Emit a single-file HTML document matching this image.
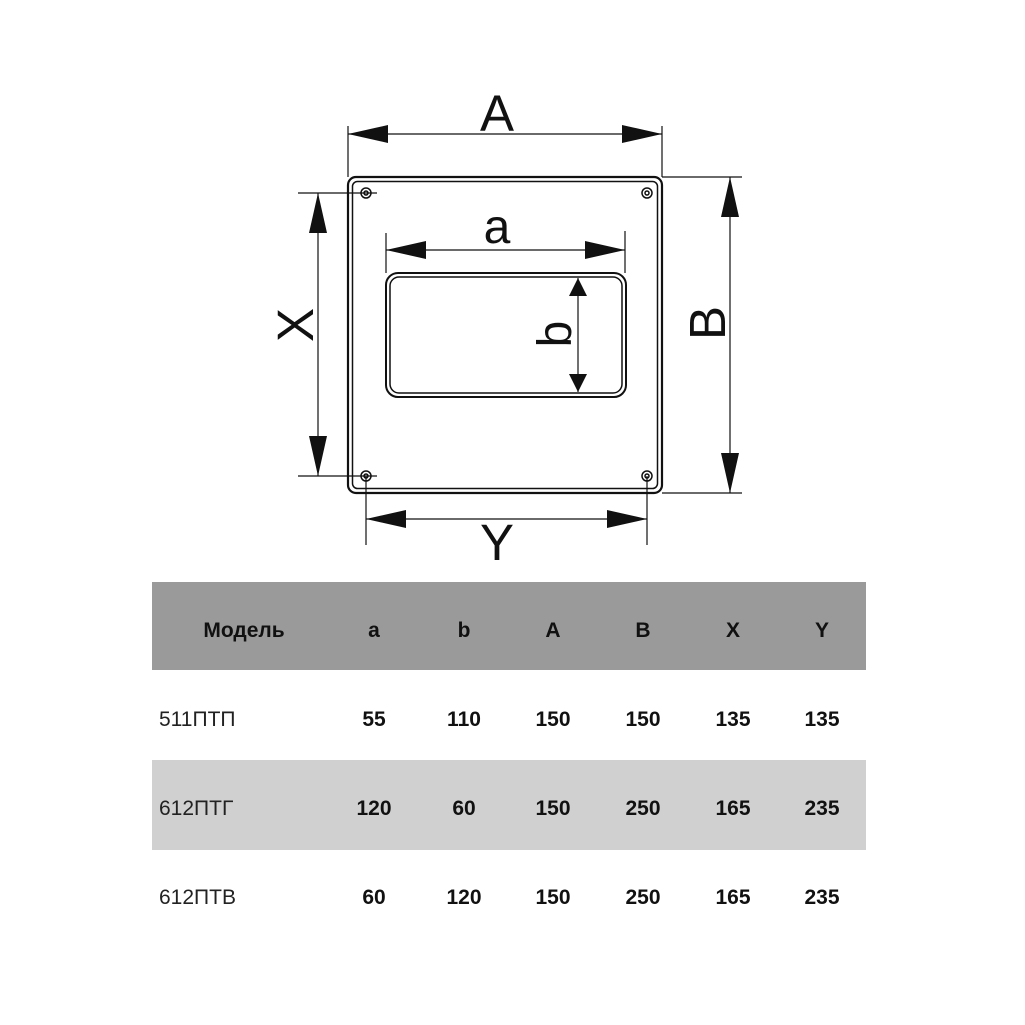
<!DOCTYPE html>
<html><head><meta charset="utf-8"><style>
body{margin:0;background:#fff;width:1025px;height:1025px;overflow:hidden;font-family:"Liberation Sans",sans-serif}
</style></head><body>
<svg width="1025" height="1025" viewBox="0 0 1025 1025" xmlns="http://www.w3.org/2000/svg" style="position:absolute;left:0;top:0">
<g fill="none" stroke="#111">
<!-- outer plate double -->
<rect x="348" y="177" width="314" height="316" rx="8" stroke-width="2.2"/>
<rect x="352.5" y="181.5" width="305" height="307" rx="5" stroke-width="1.5"/>
<!-- inner opening -->
<rect x="386" y="273" width="240" height="124" rx="12" stroke-width="2"/>
<rect x="390" y="277" width="232" height="116" rx="9" stroke-width="1.5"/>
<!-- screws -->
<g stroke-width="1.5">
<circle cx="366" cy="193" r="5"/><circle cx="366" cy="193" r="2"/>
<circle cx="647" cy="193" r="5"/><circle cx="647" cy="193" r="2"/>
<circle cx="366" cy="476" r="5"/><circle cx="366" cy="476" r="2"/>
<circle cx="647" cy="476" r="5"/><circle cx="647" cy="476" r="2"/>
</g>
<g stroke-width="1.2">
<!-- A -->
<line x1="348" y1="126" x2="348" y2="177"/><line x1="662" y1="126" x2="662" y2="177"/>
<line x1="348" y1="134" x2="662" y2="134"/>
<!-- B -->
<line x1="662" y1="177" x2="742" y2="177"/><line x1="662" y1="493" x2="742" y2="493"/>
<line x1="730" y1="177" x2="730" y2="493"/>
<!-- X -->
<line x1="298" y1="193" x2="377" y2="193"/><line x1="298" y1="476" x2="377" y2="476"/>
<line x1="318" y1="193" x2="318" y2="476"/>
<!-- Y -->
<line x1="366" y1="476" x2="366" y2="545"/><line x1="647" y1="476" x2="647" y2="545"/>
<line x1="366" y1="519" x2="647" y2="519"/>
<!-- a -->
<line x1="386" y1="233" x2="386" y2="273"/><line x1="625" y1="231" x2="625" y2="273"/>
<line x1="386" y1="250" x2="625" y2="250"/>
<!-- b -->
<line x1="578" y1="278" x2="578" y2="392"/>
</g>
</g>
<g fill="#111">
<!-- A arrows -->
<polygon points="348,134 388,125 388,143"/><polygon points="662,134 622,125 622,143"/>
<!-- B -->
<polygon points="730,177 721,217 739,217"/><polygon points="730,493 721,453 739,453"/>
<!-- X -->
<polygon points="318,193 309,233 327,233"/><polygon points="318,476 309,436 327,436"/>
<!-- Y -->
<polygon points="366,519 406,510 406,528"/><polygon points="647,519 607,510 607,528"/>
<!-- a -->
<polygon points="386,250 426,241 426,259"/><polygon points="625,250 585,241 585,259"/>
<!-- b -->
<polygon points="578,278 569,296 587,296"/><polygon points="578,392 569,374 587,374"/>
</g>
<g fill="#111" font-family="Liberation Sans, sans-serif" text-anchor="middle">
<text x="497" y="131" font-size="51">A</text>
<text x="497" y="243" font-size="48">a</text>
<text x="497" y="560" font-size="51">Y</text>
<text transform="translate(313,325) rotate(-90)" font-size="51">X</text>
<text transform="translate(725,323) rotate(-90)" font-size="51">B</text>
<text transform="translate(571,334) rotate(-90)" font-size="48">b</text>
</g>
<!-- table -->
<rect x="152" y="582" width="714" height="88" fill="#9a9a9a"/>
<rect x="152" y="760" width="714" height="90" fill="#d0d0d0"/>
<g font-family="Liberation Sans, sans-serif" font-size="21" font-weight="bold" fill="#111" text-anchor="middle">
<text x="244" y="637">Модель</text>
<text x="374" y="637">a</text><text x="464" y="637">b</text><text x="553" y="637">A</text>
<text x="643" y="637">B</text><text x="733" y="637">X</text><text x="822" y="637">Y</text>
<text x="374" y="726">55</text><text x="464" y="726">110</text><text x="553" y="726">150</text><text x="643" y="726">150</text><text x="733" y="726">135</text><text x="822" y="726">135</text>
<text x="374" y="815">120</text><text x="464" y="815">60</text><text x="553" y="815">150</text><text x="643" y="815">250</text><text x="733" y="815">165</text><text x="822" y="815">235</text>
<text x="374" y="904">60</text><text x="464" y="904">120</text><text x="553" y="904">150</text><text x="643" y="904">250</text><text x="733" y="904">165</text><text x="822" y="904">235</text>
</g>
<g font-family="Liberation Sans, sans-serif" font-size="21" fill="#222">
<text x="159" y="726">511ПТП</text>
<text x="159" y="815">612ПТГ</text>
<text x="159" y="904">612ПТВ</text>
</g>
</svg>
</body></html>
